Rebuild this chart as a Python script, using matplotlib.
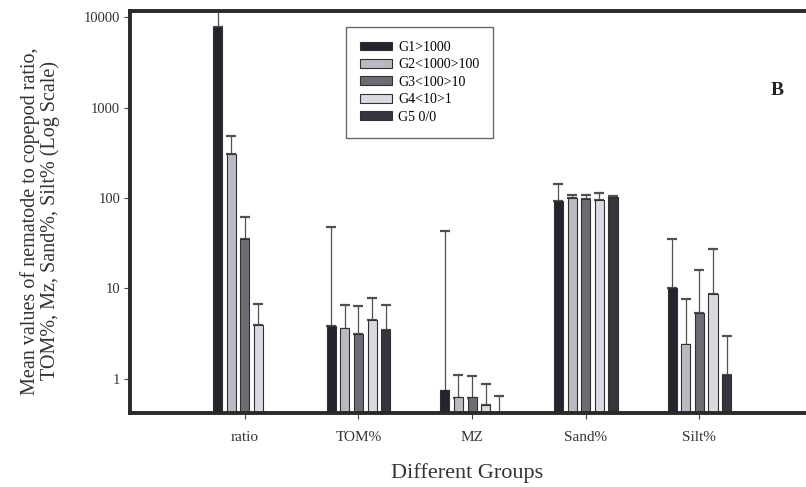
import matplotlib
matplotlib.use("Agg")
import matplotlib.pyplot as plt
import numpy as np
from matplotlib.ticker import FixedLocator, NullLocator

plt.rcParams['font.family'] = ['Liberation Serif', 'DejaVu Serif']

categories = ["ratio", "TOM%", "MZ", "Sand%", "Silt%"]
groups = ["G1>1000", "G2<1000>100", "G3<100>10", "G4<10>1", "G5 0/0"]
# mean values per group (nan = no bar)
g1 = [7740, 3.8, 0.74, 92.7, 10.0]
g2 = [308, 3.6, 0.62, 100, 2.4]
g3 = [35, 3.1, 0.62, 98, 5.3]
g4 = [3.9, 4.5, 0.51, 96, 8.6]
g5 = [np.nan, 3.5, 0.35, 103, 1.1]
# upper error bar ends
g1_hi = [20000, 47.6, 43, 143, 35]
g2_hi = [489, 6.6, 1.1, 108, 7.7]
g3_hi = [61.5, 6.4, 1.07, 108, 15.8]
g4_hi = [6.8, 7.9, 0.88, 113, 27]
g5_hi = [np.nan, 6.6, 0.65, 105, 3.0]

means = [g1, g2, g3, g4, g5]
highs = [g1_hi, g2_hi, g3_hi, g4_hi, g5_hi]
colors = ["#25232e", "#b9b9c1", "#6c6c74", "#d9d9e1", "#35353d"]

fig = plt.figure(figsize=(8.06, 4.87), dpi=100)
ax = fig.add_axes([130/806, 1-413/487, 700/806, 402/487])
ax.set_yscale('log')

x = np.arange(len(categories))
step = 0.12
width = 0.08
for i, (m, h, c) in enumerate(zip(means, highs, colors)):
    m = np.array(m, dtype=float)
    h = np.array(h, dtype=float)
    pos = x + (i - 2) * step
    ax.bar(pos, m, width=width, color=c, edgecolor="#303030", linewidth=0.8,
           label=groups[i], zorder=2, bottom=0.01)
    err = np.vstack([np.zeros_like(m), h - m])
    ax.errorbar(pos, m, yerr=err, fmt='none', ecolor="#505050", elinewidth=0.9,
                capsize=3.5, capthick=1.6, zorder=1)

ax.set_ylim(0.42, 11660)
ax.set_xlim(-1.01, 5.15)
ax.yaxis.set_major_locator(FixedLocator([1, 10, 100, 1000, 10000]))
ax.yaxis.set_minor_locator(NullLocator())
ax.set_yticklabels(["1", "10", "100", "1000", "10000"], fontsize=10.5, color="#333333")
ax.set_xticks(x)
ax.set_xticklabels(categories, fontsize=11, color="#333333")
ax.tick_params(axis='both', direction='out', length=4, width=0.8, color="#444444")
ax.tick_params(axis='y', pad=3)
ax.tick_params(axis='x', pad=9)
for s in ax.spines.values():
    s.set_linewidth(2.8)
    s.set_color("#2a2a2a")

ax.set_ylabel("Mean values of nematode to copepod ratio,\nTOM%, Mz, Sand%, Silt% (Log Scale)",
              fontsize=14.5, color="#333333", linespacing=1.0)
ax.yaxis.set_label_coords(-(130-60)/700, (413-221)/402)
ax.set_xlabel("Different Groups", fontsize=16, color="#333333")
ax.xaxis.set_label_coords((467-130)/700, -(473-413)/402)
ax.xaxis.label.set_va('center')

leg = ax.legend(loc='upper left', bbox_to_anchor=((346-130)/700, 1-(27-11)/402),
                fontsize=10, frameon=True, fancybox=False, edgecolor="#444444",
                handlelength=2.3, handleheight=0.6, handletextpad=0.45,
                borderpad=1.0, labelspacing=0.32, borderaxespad=0)
leg.get_frame().set_linewidth(1.0)

fig.text(777/806, 1-91/487, "B", fontsize=14, fontweight='bold', ha='center', va='center', color="#222222")

fig.savefig("out.png", dpi=100)
